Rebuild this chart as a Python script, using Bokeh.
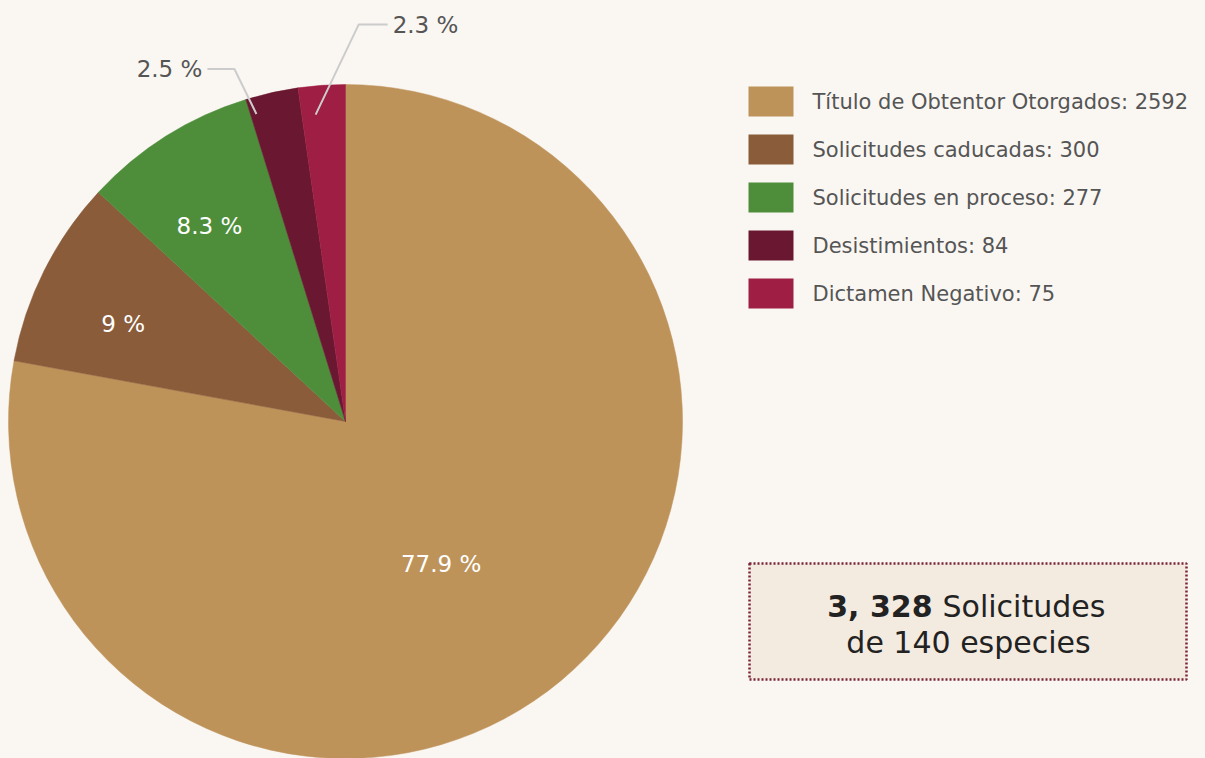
import math
from bokeh.plotting import figure
from bokeh.models import Range1d, ColumnDataSource
from bokeh.core.properties import value
from bokeh.embed import file_html
from bokeh.resources import INLINE

# ---- data ----
categories = ["Título de Obtentor Otorgados", "Solicitudes caducadas",
              "Solicitudes en proceso", "Desistimientos", "Dictamen Negativo"]
counts = [2592, 300, 277, 84, 75]
pct_labels = ["77.9 %", "9 %", "8.3 %", "2.5 %", "2.3 %"]
colors = ["#BE935A", "#8A5C3A", "#4E8E3B", "#6A1831", "#9E1F43"]
total_text_bold = "3, 328"
total_text_rest = "Solicitudes"
total_text_line2 = "de 140 especies"

BG = "#FAF7F3"
FONT = "DejaVu Sans"
W, H = 1205, 758
OFF = 0

def sx(x):  # screen x -> data x
    return x - OFF
def sy(y):  # screen y -> data y
    return (H + OFF) - y

p = figure(width=W, height=H, output_backend="svg", toolbar_location=None,
           x_range=Range1d(0, W), y_range=Range1d(0, H), min_border=0)
p.axis.visible = False
p.grid.visible = False
p.outline_line_color = None
p.background_fill_color = BG
p.border_fill_color = BG

cx, cy, R = sx(345), sy(421), 337
total = sum(counts)
starts, ends, mids = [], [], []
a = 90.0
for c in counts:
    span = 360.0 * c / total
    starts.append(math.radians(a))
    ends.append(math.radians(a - span))
    mids.append(math.radians(a - span / 2))
    a -= span

src = ColumnDataSource(dict(start=starts, end=ends, color=colors))
p.wedge(x=cx, y=cy, radius=R, start_angle="start", end_angle="end",
        direction="clock", fill_color="color", line_color="color",
        line_width=0.5, source=src)

# inside labels
label_frac = [0.51, 0.72, 0.706]
label_adj = [math.radians(-6), math.radians(3), math.radians(2.7)]
lx = [cx + f * R * math.cos(m + d) for f, m, d in zip(label_frac, mids[:3], label_adj)]
ly = [cy + f * R * math.sin(m + d) for f, m, d in zip(label_frac, mids[:3], label_adj)]
p.text(x=lx, y=ly, text=pct_labels[:3], text_color="white",
       text_font=value(FONT), text_font_size="23px",
       text_align="center", text_baseline="middle")

# outside labels with leader lines
lead_angle_adj = [math.radians(3.5), math.radians(1.5)]
lead_frac = [0.95, 0.915]
elbow_off = [(-22, 45), (43, 90)]
tail_len = [27, 29]
sides = [-1, 1]
for k, i in enumerate([3, 4]):
    ang = mids[i] + lead_angle_adj[k]
    x0 = cx + lead_frac[k] * R * math.cos(ang)
    y0 = cy + lead_frac[k] * R * math.sin(ang)
    x1, y1 = x0 + elbow_off[k][0], y0 + elbow_off[k][1]
    x2 = x1 + sides[k] * tail_len[k]
    p.line([x0, x1, x2], [y0, y1, y1], line_color="#CCCCCC", line_width=2)
    p.text(x=[x2 + sides[k] * 5], y=[y1], text=[pct_labels[i]],
           text_color="#555555", text_font=value(FONT), text_font_size="23px",
           text_align="left" if sides[k] > 0 else "right",
           text_baseline="middle")

# legend
leg_top = 86
leg_gap = 48
ys = [sy(leg_top + 15 + j * leg_gap) for j in range(len(categories))]
p.rect(x=[sx(770.5)] * len(categories), y=ys, width=45, height=30,
       fill_color=colors, line_color=None)
p.text(x=[sx(812)] * len(categories), y=ys,
       text=[f"{c}: {v}" for c, v in zip(categories, counts)],
       text_color="#555555", text_font=value(FONT), text_font_size="21px",
       text_align="left", text_baseline="middle")

# total box
bx0, bx1, by0, by1 = 749, 1186, 563, 679
p.quad(left=sx(bx0), right=sx(bx1), top=sy(by0), bottom=sy(by1),
       fill_color="#F3EAE0", line_color="#7B2437", line_width=2.5,
       line_dash="2 2")
split = 932
p.text(x=[sx(split)], y=[sy(606)], text=[total_text_bold],
       text_color="#222222", text_font=value(FONT), text_font_size="30px",
       text_font_style="bold", text_align="right", text_baseline="middle")
p.text(x=[sx(split + 10)], y=[sy(606)], text=[total_text_rest],
       text_color="#222222", text_font=value(FONT), text_font_size="30px",
       text_align="left", text_baseline="middle")
p.text(x=[sx(968)], y=[sy(642)], text=[total_text_line2],
       text_color="#222222", text_font=value(FONT), text_font_size="30px",
       text_align="center", text_baseline="middle")

html = file_html(p, INLINE)
html = html.replace("<body>", f'<body style="background:{BG}">')
open("out.html", "w").write(html)
